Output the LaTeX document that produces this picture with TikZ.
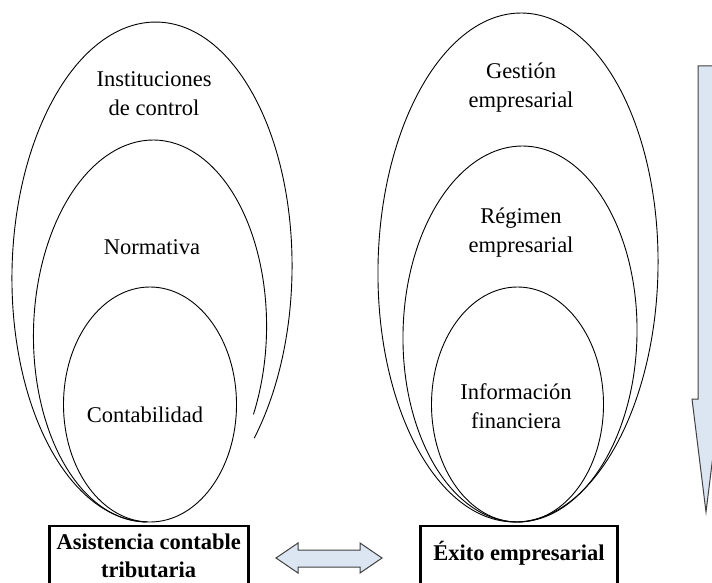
\documentclass[tikz,border=0pt]{standalone}
\usepackage{fontspec}
\setmainfont{Liberation Serif}
\definecolor{arrowfill}{HTML}{DCE6F2}
\definecolor{arrowline}{HTML}{404040}
\tikzset{
  ring/.style={draw=black, line width=0.9pt},
  lbl/.style={font=\fontsize{22.5}{29}\selectfont, align=center, inner sep=0pt},
  boxlbl/.style={font=\fontsize{22.5}{28}\selectfont\bfseries, align=center, inner sep=0pt},
  frame/.style={draw=black, line width=2.8pt, inner sep=0pt, anchor=north},
  blockarrow/.style={fill=arrowfill, draw=arrowline, line width=1pt, line join=miter}
}
\begin{document}
\begin{tikzpicture}[x=1pt,y=-1pt]
\useasboundingbox (0,0) rectangle (712,583);
\clip (0,0) rectangle (712,583);

% left group (outer two rings open at lower right)
\draw[ring, rotate around={-1.2:(152,272)}] (152,272) ++(41:140 and 250)
  arc[start angle=41, end angle=-270, x radius=140, y radius=250];
\draw[ring, rotate around={-1.5:(150,331)}] (150,331) ++(25:116.5 and 191)
  arc[start angle=25, end angle=-270, x radius=116.5, y radius=191];
\draw[ring] (150,404.5) ellipse [x radius=86.5, y radius=117.5];

% right group
\draw[ring, rotate around={-1:(518,267.5)}] (518,267.5) ellipse [x radius=140, y radius=254.5];
\draw[ring, rotate around={-1.2:(520,334)}] (520,334) ellipse [x radius=117, y radius=188];
\draw[ring] (517.5,404.5) ellipse [x radius=86, y radius=117.5];

% labels
\node[lbl] (tInst) at (154,94) {Instituciones\\de control};
\node[lbl] (tNorm) at (152,247) {Normativa};
\node[lbl] (tCont) at (145,415) {Contabilidad};
\node[lbl] (tGest) at (521,88) {Gestión\\empresarial};
\node[lbl] (tReg) at (521,233) {Régimen\\empresarial};
\node[lbl] (tInfo) at (516,406) {Información\\financiera};

% boxes
\node[frame, minimum width=199pt, minimum height=90pt] (boxL) at (148.7,524.5) {};
\node[frame, minimum width=197pt, minimum height=90pt] (boxR) at (519,524.5) {};
\node[boxlbl] (tAsis) at (148.7,556) {Asistencia contable\\tributaria};
\node[boxlbl] (tExito) at (519,553) {Éxito empresarial};

% double block arrow
\draw[blockarrow] (276,558) -- (298,543) -- (298,550) -- (360,550) -- (360,543)
  -- (382,558) -- (360,573) -- (360,567) -- (298,567) -- (298,573) -- cycle;

% big down arrow
\draw[blockarrow] (698,66) -- (716,66) -- (716,399) -- (720,399) -- (706,512)
  -- (692,399) -- (698,399) -- cycle;
\end{tikzpicture}
\end{document}
